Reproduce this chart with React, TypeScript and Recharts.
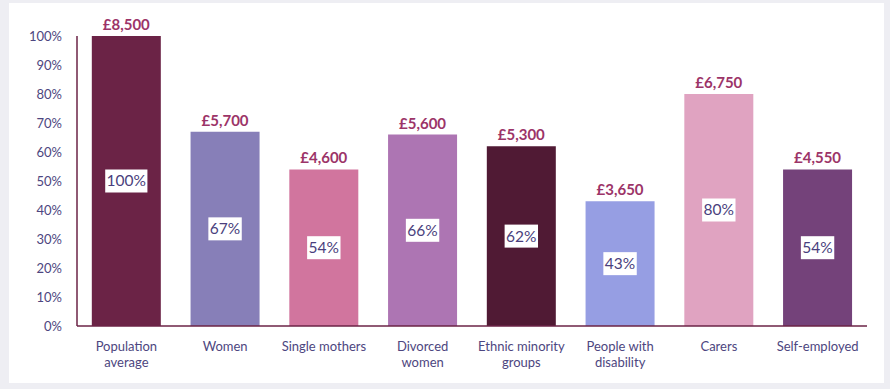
import { Bar, BarChart, Cell, LabelList, XAxis, YAxis } from "recharts";

const categories = [
  "Population\naverage",
  "Women",
  "Single mothers",
  "Divorced\nwomen",
  "Ethnic minority\ngroups",
  "People with\ndisability",
  "Carers",
  "Self-employed",
];
const shares = [100, 67, 54, 66, 62, 43, 80, 54];
const amounts = ["£8,500", "£5,700", "£4,600", "£5,600", "£5,300", "£3,650", "£6,750", "£4,550"];
const yTicks = [0, 10, 20, 30, 40, 50, 60, 70, 80, 90, 100];

const colors = ["#6b2346", "#877fb8", "#d1759e", "#ad75b3", "#501a34", "#969ee3", "#e0a3c1", "#74427a"];

const FONT = "Lato, 'Open Sans', sans-serif";
const TICK_COLOR = "#4d4680";
const AXIS_COLOR = "#6b2346";

const data = categories.map((name, i) => ({
  name,
  share: shares[i],
  amount: amounts[i],
}));

function CategoryTick(props: any) {
  const { x, y, payload } = props;
  const lines = String(payload.value).split("\n");
  return (
    <text x={x} y={y} textAnchor="middle" fill={TICK_COLOR} fontSize={13} fontFamily={FONT}>
      {lines.map((line, i) => (
        <tspan key={i} x={x} dy={i === 0 ? "0.71em" : 16}>
          {line}
        </tspan>
      ))}
    </text>
  );
}

function AmountLabel(props: any) {
  const { x, y, width, value } = props;
  return (
    <text
      x={x + width / 2}
      y={y - 6}
      textAnchor="middle"
      fill="#9c3468"
      fontSize={15}
      fontWeight="bold"
      fontFamily={FONT}
    >
      {value}
    </text>
  );
}

function ShareLabel(props: any) {
  const { x, y, width, height, value } = props;
  const text = `${value}%`;
  const w = text.length * 8.8 + 7;
  const cx = x + width / 2;
  const cy = y + height / 2;
  return (
    <g>
      <rect x={cx - w / 2} y={cy - 11.5} width={w} height={23} fill="#ffffff" />
      <text
        x={cx}
        y={cy}
        dy="0.35em"
        textAnchor="middle"
        fill="#4a3f7d"
        fontSize={15.5}
        fontFamily={FONT}
      >
        {text}
      </text>
    </g>
  );
}

export default function App() {
  return (
    <div
      style={{
        position: "absolute",
        left: 0,
        top: 0,
        width: 890,
        height: 389,
        background: "#eeeef3",
      }}
    >
      <div
        style={{
          position: "absolute",
          left: 9,
          top: 3,
          width: 875,
          height: 380,
          background: "#ffffff",
        }}
      />
      <div style={{ position: "absolute", left: 0, top: 0 }}>
        <BarChart
          width={890}
          height={389}
          data={data}
          margin={{ top: 36, right: 23, bottom: 13, left: 17 }}
          barCategoryGap="15%"
        >
          <XAxis
            dataKey="name"
            interval={0}
            tickLine={false}
            axisLine={{ stroke: AXIS_COLOR, strokeWidth: 1.5 }}
            height={50}
            tickMargin={10}
            tick={<CategoryTick />}
          />
          <YAxis
            domain={[0, 100]}
            ticks={yTicks}
            width={60}
            tickLine={false}
            axisLine={{ stroke: AXIS_COLOR, strokeWidth: 1.5 }}
            tickMargin={9}
            tickFormatter={(v) => `${v}%`}
            tick={{ fill: TICK_COLOR, fontSize: 13, fontFamily: FONT }}
          />
          <Bar dataKey="share" isAnimationActive={false}>
            {data.map((d, i) => (
              <Cell key={d.name} fill={colors[i]} />
            ))}
            <LabelList dataKey="amount" content={<AmountLabel />} />
            <LabelList dataKey="share" content={<ShareLabel />} />
          </Bar>
        </BarChart>
      </div>
    </div>
  );
}
